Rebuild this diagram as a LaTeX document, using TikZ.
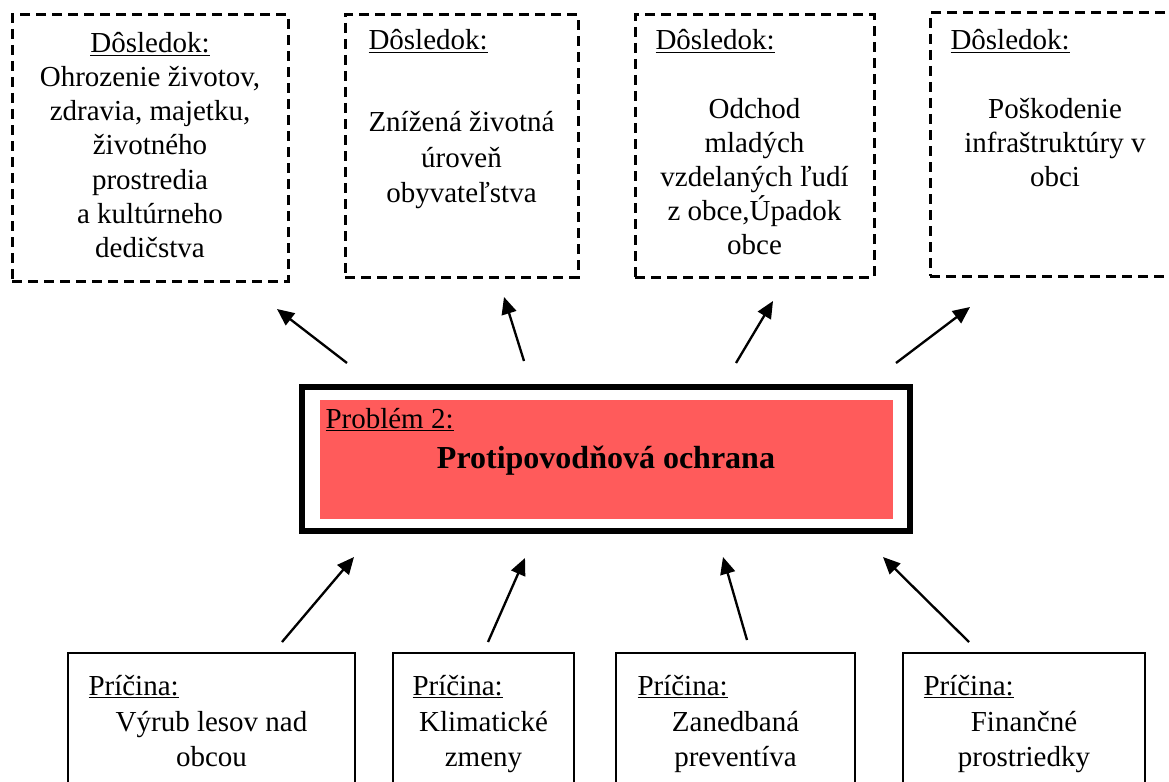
\documentclass[tikz,border=0pt]{standalone}
\usepackage{fontspec}
\setmainfont{Liberation Serif}
\usetikzlibrary{arrows.meta,fit}

\definecolor{probred}{RGB}{255,91,91}

\tikzset{every picture/.style={line width=0.75pt}}
\tikzset{
  dosbox/.style={draw, dash pattern=on 7.5pt off 4.5pt, line width=2.25pt, inner sep=0pt},
  pricbox/.style={draw, line width=1.5pt, inner sep=0pt},
  txt/.style={inner sep=0pt, font=\fontsize{21.75}{26}\selectfont},
  sipka/.style={line width=1.75pt, -{Triangle[length=12.75pt,width=11.25pt]}}
}

\begin{document}
\begin{tikzpicture}[x=0.75pt,y=0.75pt,yscale=-1,xscale=1]
\useasboundingbox (0,0) rectangle (1169,781);
\clip (0,0) rectangle (1169,781);

%Boxes: Dosledky
\node[dosbox, fit={(12,15) (288,281)}] (dosl1) {};
\node[dosbox, fit={(345,15) (578,277)}] (dosl2) {};
\node[dosbox, fit={(635,15) (874,277)}] (dosl3) {};
\node[dosbox, fit={(930,13) (1180,276)}] (dosl4) {};

%Box: Problem
\node[draw, line width=4.5pt, inner sep=0pt, fit={(302,387) (910,531)}] (prob) {};
\node[fill=probred, inner sep=0pt, fit={(320,400) (893,519)}] (probfill) {};

%Boxes: Priciny
\node[pricbox, fit={(68,653) (355,800)}] (pric1) {};
\node[pricbox, fit={(393,653) (574,800)}] (pric2) {};
\node[pricbox, fit={(616,653) (855,800)}] (pric3) {};
\node[pricbox, fit={(903,653) (1145,800)}] (pric4) {};

% Text Node
\node[txt, anchor=base] (d1h) at (150,53) {\underline{Dôsledok:}};
\node[txt, anchor=base] (d1a) at (150,87) {Ohrozenie životov,};
\node[txt, anchor=base] (d1b) at (150,121) {zdravia, majetku,};
\node[txt, anchor=base] (d1c) at (150,155) {životného};
\node[txt, anchor=base] (d1d) at (150,189) {prostredia};
\node[txt, anchor=base] (d1e) at (150,223) {a kultúrneho};
\node[txt, anchor=base] (d1f) at (150,257) {dedičstva};
% Text Node
\node[txt, anchor=base west] (d2h) at (368,50) {\underline{Dôsledok:}};
\node[txt, anchor=base] (d2a) at (461.5,132) {Znížená životná};
\node[txt, anchor=base] (d2b) at (461.5,167) {úroveň};
\node[txt, anchor=base] (d2c) at (461.5,202) {obyvateľstva};
% Text Node
\node[txt, anchor=base west] (d3h) at (655,50) {\underline{Dôsledok:}};
\node[txt, anchor=base] (d3a) at (754.5,118) {Odchod};
\node[txt, anchor=base] (d3b) at (754.5,152) {mladých};
\node[txt, anchor=base] (d3c) at (754.5,186) {vzdelaných ľudí};
\node[txt, anchor=base] (d3d) at (754.5,220) {z obce,Úpadok};
\node[txt, anchor=base] (d3e) at (754.5,254) {obce};
% Text Node
\node[txt, anchor=base west] (d4h) at (950,50) {\underline{Dôsledok:}};
\node[txt, anchor=base] (d4a) at (1055,118) {Poškodenie};
\node[txt, anchor=base] (d4b) at (1055,152) {infraštruktúry v};
\node[txt, anchor=base] (d4c) at (1055,186) {obci};

% Text Node
\node[txt, anchor=base west] (probh) at (325,428) {\underline{Problém 2:}};
\node[txt, anchor=base, font=\fontsize{24}{28}\selectfont\bfseries] (probt) at (606,468) {Protipovodňová ochrana};

% Text Node
\node[txt, anchor=base west] (p1h) at (88,695) {\underline{Príčina:}};
\node[txt, anchor=base] (p1a) at (211.5,731) {Výrub lesov nad};
\node[txt, anchor=base] (p1b) at (211.5,766) {obcou};
\node[txt, anchor=base west] (p2h) at (412,695) {\underline{Príčina:}};
\node[txt, anchor=base] (p2a) at (483.5,731) {Klimatické};
\node[txt, anchor=base] (p2b) at (483.5,766) {zmeny};
\node[txt, anchor=base west] (p3h) at (637,695) {\underline{Príčina:}};
\node[txt, anchor=base] (p3a) at (735.5,731) {Zanedbaná};
\node[txt, anchor=base] (p3b) at (735.5,766) {preventíva};
\node[txt, anchor=base west] (p4h) at (923,695) {\underline{Príčina:}};
\node[txt, anchor=base] (p4a) at (1024,731) {Finančné};
\node[txt, anchor=base] (p4b) at (1024,766) {prostriedky};

%Arrow ends
\coordinate (a1s) at (347,363); \coordinate (a1e) at (277,309);
\coordinate (a2s) at (524,361); \coordinate (a2e) at (504,297);
\coordinate (a3s) at (736,363); \coordinate (a3e) at (773,301);
\coordinate (a4s) at (896,363); \coordinate (a4e) at (970,307);
\coordinate (b1s) at (282,642); \coordinate (b1e) at (354,557);
\coordinate (b2s) at (488,642); \coordinate (b2e) at (525,558);
\coordinate (b3s) at (747,640); \coordinate (b3e) at (723,557);
\coordinate (b4s) at (969,642); \coordinate (b4e) at (883,557);

%Straight Lines
\draw[sipka] (a1s) -- (a1e);
\draw[sipka] (a2s) -- (a2e);
\draw[sipka] (a3s) -- (a3e);
\draw[sipka] (a4s) -- (a4e);
%Straight Lines
\draw[sipka] (b1s) -- (b1e);
\draw[sipka] (b2s) -- (b2e);
\draw[sipka] (b3s) -- (b3e);
\draw[sipka] (b4s) -- (b4e);

\end{tikzpicture}
\end{document}
